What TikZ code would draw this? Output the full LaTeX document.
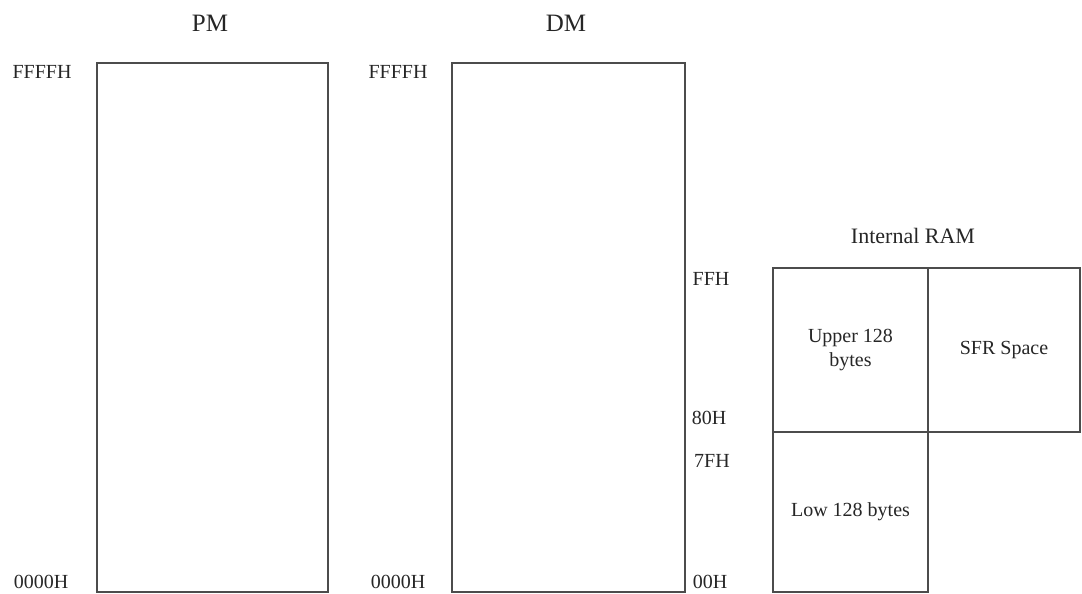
\documentclass[tikz,border=0pt]{standalone}
\usepackage{fontspec}
\setmainfont{Liberation Serif}
\begin{document}
\begin{tikzpicture}[x=1pt,y=-1pt,
  mem/.style={draw=black!70,line width=1.5pt,inner sep=0pt,outer sep=0pt,anchor=north west,align=center,text=black!85},
  lbl/.style={font=\fontsize{20}{22}\selectfont,text=black!85,inner sep=0pt},
  ttl/.style={font=\fontsize{25}{28}\selectfont,text=black!85,inner sep=0pt}]
\useasboundingbox (0,0) rectangle (1082,594);
% PM and DM
\node[mem,minimum width=231pt,minimum height=529pt] (pm) at (97,63) {};
\node[mem,minimum width=233pt,minimum height=529pt] (dm) at (452,63) {};
\node[ttl] (pmt) at (210,23) {PM};
\node[ttl] (dmt) at (566,23) {DM};
\node[lbl] (pmtop) at (42,72) {FFFFH};
\node[lbl] (pmbot) at (41,582) {0000H};
\node[lbl] (dmtop) at (398,72) {FFFFH};
\node[lbl] (dmbot) at (398,582) {0000H};
% Internal RAM
\node[ttl,font=\fontsize{22}{26}\selectfont] (ramt) at (913,236) {Internal RAM};
\node[mem,minimum width=155pt,minimum height=164pt,font=\fontsize{20}{24}\selectfont] (up) at (773,268) {Upper 128\\bytes};
\node[mem,minimum width=152pt,minimum height=164pt,font=\fontsize{20}{24}\selectfont] (sfr) at (928,268) {SFR Space};
\node[mem,minimum width=155pt,minimum height=160pt,font=\fontsize{20}{24}\selectfont] (low) at (773,432) {Low 128 bytes};
\node[lbl] (ffh) at (711,279) {FFH};
\node[lbl] (h80) at (709,418) {80H};
\node[lbl] (h7f) at (712,461) {7FH};
\node[lbl] (h00) at (710,582) {00H};
\end{tikzpicture}
\end{document}
